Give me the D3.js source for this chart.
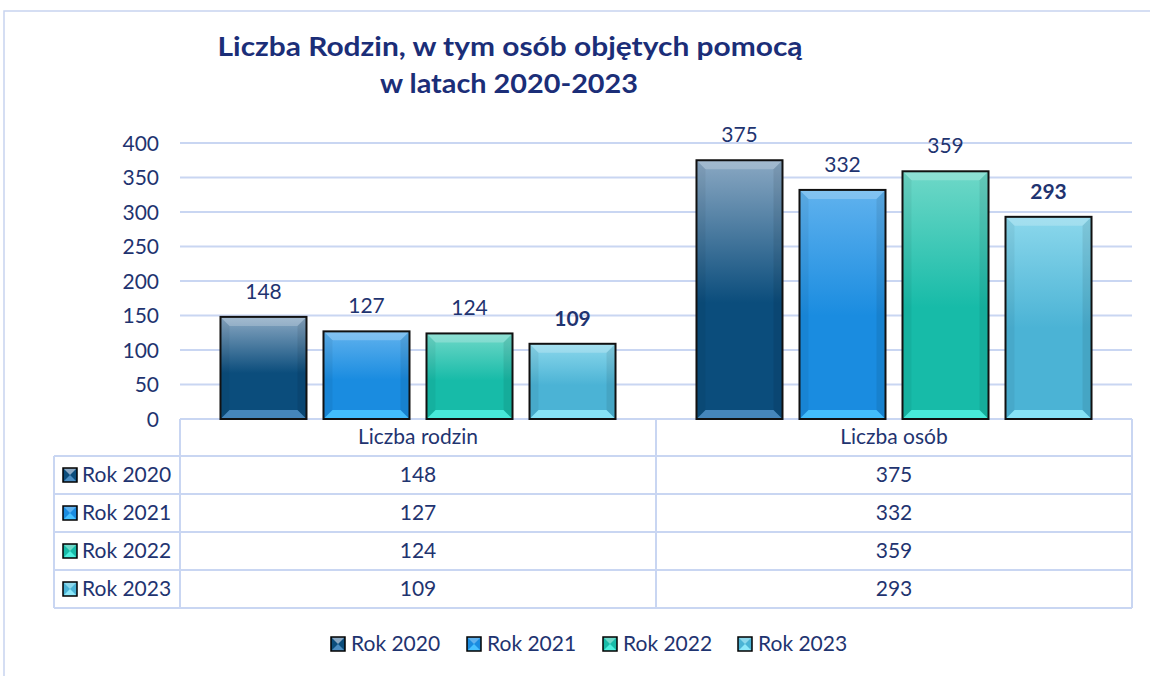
<!DOCTYPE html>
<html><head><meta charset="utf-8">
<script src="https://cdn.jsdelivr.net/npm/d3@7"></script>
<style>
html,body{margin:0;padding:0;background:#fff;}
svg{display:block;font-family:Lato,"Open Sans",sans-serif;}
</style></head>
<body>
<svg id="chart" width="1150" height="676"></svg>
<script>
const categories = ["Liczba rodzin", "Liczba osób"];
const series = ["Rok 2020", "Rok 2021", "Rok 2022", "Rok 2023"];
const values = {
  "Rok 2020": [148, 375],
  "Rok 2021": [127, 332],
  "Rok 2022": [124, 359],
  "Rok 2023": [109, 293]
};
const yTicks = [0, 50, 100, 150, 200, 250, 300, 350, 400];
const boldLabel = {"Rok 2023": true};
const titleLines = ["Liczba Rodzin, w tym osób objętych pomocą", "w latach 2020-2023"];

const palette = {
  "Rok 2020": {base:"#0B4D7C", top:"#8AA8C3", bot:"#4B8DC2"},
  "Rok 2021": {base:"#1A8CE0", top:"#60B2EE", bot:"#47C2FF"},
  "Rok 2022": {base:"#17BBA8", top:"#6FD8C8", bot:"#4CF0DE"},
  "Rok 2023": {base:"#4BB3D5", top:"#8CD8EC", bot:"#8DE8FA"}
};
const textColor = "#1F3470";
const titleColor = "#1B2E78";
const gridColor = "#C9D6F2";
const fs = 21;

const svg = d3.select("#chart");
const defs = svg.append("defs");
series.forEach((s,i)=>{
  const g = defs.append("linearGradient").attr("id","g"+i).attr("x1",0).attr("y1",0).attr("x2",0).attr("y2",1);
  g.append("stop").attr("offset","0").attr("stop-color",palette[s].top);
  g.append("stop").attr("offset","0.55").attr("stop-color",palette[s].base);
  g.append("stop").attr("offset","1").attr("stop-color",palette[s].base);
});

// outer frame
svg.append("path").attr("d","M4,676 L4,11 L1150,11").attr("fill","none").attr("stroke","#C8D4F0").attr("stroke-width",1.5);

// title
svg.append("text").attr("x",510).attr("y",56).attr("text-anchor","middle")
  .attr("font-size",27).attr("font-weight","bold").attr("fill",titleColor)
  .attr("textLength",585).attr("lengthAdjust","spacingAndGlyphs").text(titleLines[0]);
svg.append("text").attr("x",509).attr("y",93).attr("text-anchor","middle")
  .attr("font-size",27).attr("font-weight","bold").attr("fill",titleColor)
  .attr("textLength",258).attr("lengthAdjust","spacingAndGlyphs").text(titleLines[1]);

const plotL = 180, plotR = 1132, plotT = 143, plotB = 419;
const y = d3.scaleLinear().domain([0,400]).range([plotB, plotT]);
const x0 = d3.scaleBand().domain(categories).range([plotL, plotR]).paddingInner(0).paddingOuter(0);
const x1 = d3.scaleBand().domain(series).range([0, x0.bandwidth()]).paddingInner(0.165).paddingOuter(0.393);

// gridlines
svg.append("g").selectAll("line").data(yTicks).join("line")
  .attr("x1",plotL).attr("x2",plotR).attr("y1",d=>y(d)).attr("y2",d=>y(d))
  .attr("stroke",gridColor).attr("stroke-width",2);

// y axis labels
const yAxis = d3.axisLeft(y).tickValues(yTicks).tickSize(0).tickPadding(0);
const ya = svg.append("g").attr("transform","translate(159,0)").call(yAxis);
ya.select(".domain").remove();
ya.selectAll("text").attr("font-size",fs).attr("fill",textColor).attr("font-family","Lato,sans-serif").attr("dy","0.35em");

// bars
const bw = x1.bandwidth();
categories.forEach((c,ci)=>{
  series.forEach((s,si)=>{
    const v = values[s][ci];
    const bx = x0(c) + x1(s);
    const by = y(v);
    const bh = y(0) - by;
    const g = svg.append("g");
    g.append("rect").attr("x",bx).attr("y",by).attr("width",bw).attr("height",bh).attr("fill","url(#g"+si+")");
    const b = 9;
    g.append("path").attr("d",`M${bx},${by} L${bx+bw},${by} L${bx+bw-b},${by+b} L${bx+b},${by+b} Z`).attr("fill","#fff").attr("opacity",0.22);
    g.append("path").attr("d",`M${bx},${by+bh} L${bx+bw},${by+bh} L${bx+bw-b},${by+bh-b} L${bx+b},${by+bh-b} Z`).attr("fill",palette[s].bot).attr("opacity",0.9);
    g.append("path").attr("d",`M${bx},${by} L${bx+b},${by+b} L${bx+b},${by+bh-b} L${bx},${by+bh} Z`).attr("fill","#000").attr("opacity",0.05);
    g.append("path").attr("d",`M${bx+bw},${by} L${bx+bw-b},${by+b} L${bx+bw-b},${by+bh-b} L${bx+bw},${by+bh} Z`).attr("fill","#000").attr("opacity",0.08);
    g.append("rect").attr("x",bx).attr("y",by).attr("width",bw).attr("height",bh).attr("fill","none").attr("stroke","#111").attr("stroke-width",2);
    svg.append("text").attr("x",bx+bw/2).attr("y",by-18).attr("text-anchor","middle")
      .attr("font-size",fs).attr("fill",textColor).attr("font-weight",boldLabel[s]?"bold":"normal").text(v);
  });
});

// table
const rowY = [456, 494, 532, 570, 608];
const tbl = svg.append("g").attr("stroke",gridColor).attr("stroke-width",2).attr("fill","none");
[plotL, x0(categories[1]), plotR].forEach(xx=>{
  tbl.append("line").attr("x1",xx).attr("x2",xx).attr("y1",plotB).attr("y2",rowY[rowY.length-1]);
});
tbl.append("line").attr("x1",54).attr("x2",54).attr("y1",rowY[0]).attr("y2",rowY[rowY.length-1]);
rowY.forEach(yy=>{
  tbl.append("line").attr("x1",54).attr("x2",plotR).attr("y1",yy).attr("y2",yy);
});
categories.forEach(c=>{
  svg.append("text").attr("x",x0(c)+x0.bandwidth()/2).attr("y",437).attr("dy","0.35em").attr("text-anchor","middle")
    .attr("font-size",fs).attr("fill",textColor).text(c);
});

function marker(gx, gy, s){
  const sz = 14, p = palette[s];
  const g = svg.append("g");
  g.append("rect").attr("x",gx).attr("y",gy).attr("width",sz).attr("height",sz).attr("fill",p.base);
  g.append("path").attr("d",`M${gx},${gy} L${gx+sz},${gy} L${gx+sz/2},${gy+sz/2} Z`).attr("fill",p.top);
  g.append("path").attr("d",`M${gx},${gy+sz} L${gx+sz},${gy+sz} L${gx+sz/2},${gy+sz/2} Z`).attr("fill",p.bot);
  g.append("rect").attr("x",gx).attr("y",gy).attr("width",sz).attr("height",sz).attr("fill","none").attr("stroke","#000").attr("stroke-width",1.5);
}

series.forEach((s,si)=>{
  const cy = (rowY[si]+rowY[si+1])/2;
  marker(63, cy-7, s);
  svg.append("text").attr("x",82).attr("y",cy).attr("dy","0.35em").attr("font-size",fs).attr("fill",textColor).text(s);
  categories.forEach((c,ci)=>{
    svg.append("text").attr("x",x0(c)+x0.bandwidth()/2).attr("y",cy).attr("dy","0.35em").attr("text-anchor","middle")
      .attr("font-size",fs).attr("fill",textColor).text(values[s][ci]);
  });
});

// legend
const legX = [331, 467, 603, 738];
series.forEach((s,si)=>{
  marker(legX[si], 637, s);
  svg.append("text").attr("x",legX[si]+20).attr("y",644).attr("dy","0.35em").attr("font-size",fs).attr("fill",textColor).text(s);
});
</script>
</body></html>
